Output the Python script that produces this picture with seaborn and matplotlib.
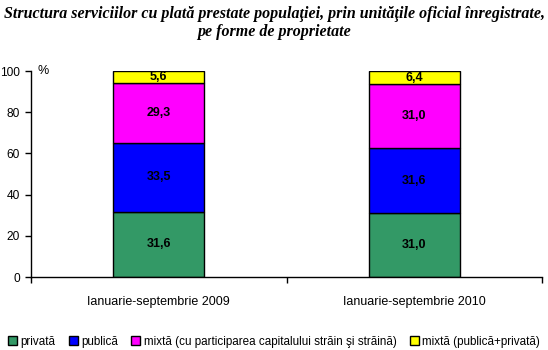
import matplotlib
matplotlib.use("Agg")
import matplotlib.pyplot as plt
import seaborn as sns
import numpy as np
import pandas as pd

categories = ["Ianuarie-septembrie 2009", "Ianuarie-septembrie 2010"]
series_names = ["privată", "publică",
                "mixtă (cu participarea capitalului străin şi străină)",
                "mixtă (publică+privată)"]
privata = [31.6, 31.0]
publica = [33.5, 31.6]
mixta_strain = [29.3, 31.0]
mixta_pp = [5.6, 6.4]
colors = ["#339966", "#0000FF", "#FF00FF", "#FFFF00"]
yticks = [0, 20, 40, 60, 80, 100]

sns.set_style("white")
plt.rcParams['font.family'] = ['Liberation Sans', 'DejaVu Sans']
plt.rcParams['text.color'] = 'black'
plt.rcParams['xtick.color'] = 'black'
plt.rcParams['ytick.color'] = 'black'

fig = plt.figure(figsize=(5.48, 3.5), dpi=100)
ax = fig.add_axes([31/548, 1-277/350, (542-31)/548, (277-71)/350])

bottom = np.zeros(len(categories))
for name, vals, col in zip(series_names, [privata, publica, mixta_strain, mixta_pp], colors):
    df = pd.DataFrame({"cat": categories, "val": vals})
    sns.barplot(data=df, x="cat", y="val", color=col, bottom=bottom, width=0.356,
                edgecolor="black", linewidth=1, saturation=1, ax=ax, label=name)
    cont = ax.containers[-1]
    ax.bar_label(cont, labels=[f"{v:.1f}".replace('.', ',') for v in vals],
                 label_type='center', fontsize=9, fontweight='bold')
    bottom = bottom + np.array(vals)

handles, labels = ax.get_legend_handles_labels()
if ax.get_legend() is not None:
    ax.get_legend().remove()

ax.set_xlim(-0.5, 1.5)
ax.set_ylim(0, 100)
ax.set_yticks(yticks)
ax.set_xlabel("")
ax.set_ylabel("")
for s in ["top", "right"]:
    ax.spines[s].set_visible(False)
for s in ["left", "bottom"]:
    ax.spines[s].set_color("black")
    ax.spines[s].set_linewidth(1)
ax.tick_params(axis='y', length=4, width=1, direction='out', labelsize=8.6, pad=4, left=True)
ax.tick_params(axis='x', which='major', length=0, labelsize=9, pad=14)
ax.set_xticks([-0.5, 0.5, 1.5], minor=True)
ax.tick_params(axis='x', which='minor', length=4, width=1, direction='out', bottom=True)
ax.text(0.012, 1.0, "%", transform=ax.transAxes, fontsize=9, va='center', ha='left')

fig.text(0.5, 1-23/350,
         "Structura serviciilor cu plată prestate populaţiei, prin unităţile oficial înregistrate,\npe forme de proprietate",
         ha='center', va='center', fontsize=11.5, fontweight='bold', fontstyle='italic',
         family=['Liberation Serif', 'DejaVu Serif'], linespacing=1.2)

fig.legend(handles, labels, loc='center', bbox_to_anchor=(0.5, 1-342/350), ncol=4,
           frameon=False, fontsize=8.4, handlelength=0.8, handleheight=0.8,
           handletextpad=0.3, columnspacing=1.1, borderaxespad=0, borderpad=0)

fig.savefig("out.png", dpi=100)
